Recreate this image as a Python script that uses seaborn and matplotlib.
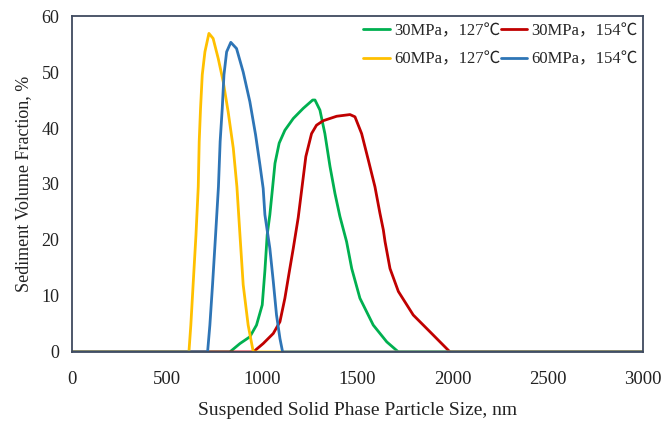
import matplotlib
matplotlib.use("Agg")
import matplotlib.pyplot as plt
import seaborn as sns
import pandas as pd

# Particle-size distributions (size in nm, volume fraction in %)
x_30_127 = [0, 830, 883, 935, 970, 1000, 1014, 1026, 1040, 1053, 1067, 1089, 1119, 1163, 1215, 1265,
            1277, 1303, 1329, 1356, 1382, 1408, 1443, 1470, 1513, 1583, 1654, 1715, 3000]
y_30_127 = [0, 0, 1.5, 2.7, 4.8, 8.4, 14.5, 20.9, 24.5, 28.9, 33.7, 37.3, 39.6, 41.7, 43.5, 45.0,
            45.0, 43.2, 39.0, 33.1, 28.3, 24.2, 19.7, 14.9, 9.6, 4.8, 1.8, 0, 0]

x_30_154 = [0, 953, 1005, 1058, 1093, 1119, 1142, 1163, 1189, 1207, 1229, 1259, 1285, 1320, 1391,
            1461, 1487, 1522, 1557, 1592, 1618, 1636, 1645, 1671, 1715, 1793, 1881, 1986, 3000]
y_30_154 = [0, 0, 1.5, 3.3, 5.4, 9.6, 14.3, 18.5, 24.0, 28.9, 34.9, 39.0, 40.5, 41.3, 42.1,
            42.4, 42.0, 39.0, 34.3, 29.5, 24.8, 21.8, 19.7, 14.9, 10.8, 6.6, 3.6, 0, 0]

x_60_127 = [0, 615, 625, 637, 652, 664, 669, 676, 685, 699, 720, 742, 769, 795, 821, 848, 867,
            883, 900, 926, 953, 3000]
y_60_127 = [0, 0, 4.8, 12.0, 20.9, 29.5, 37.6, 43.5, 49.5, 53.6, 56.9, 56.0, 52.4, 48.3, 42.9, 36.4, 29.5,
            20.9, 12.0, 4.8, 0, 0]

x_60_154 = [0, 713, 725, 739, 755, 770, 779, 790, 799, 813, 835, 865, 900, 935, 965, 988, 1005,
            1014, 1040, 1058, 1075, 1093, 1107, 3000]
y_60_154 = [0, 0, 4.8, 12.0, 20.9, 29.5, 37.6, 43.5, 49.5, 53.6, 55.3, 54.2, 50.0, 44.7, 38.8, 33.4, 29.2,
            24.5, 18.5, 12.6, 6.6, 2.4, 0, 0]

labels = ["30MPa，127℃", "30MPa，154℃", "60MPa，127℃", "60MPa，154℃"]
colors = ["#00B050", "#C00000", "#FFC000", "#2E75B6"]

frames = []
for lab, xs, ys in zip(labels,
                       [x_30_127, x_30_154, x_60_127, x_60_154],
                       [y_30_127, y_30_154, y_60_127, y_60_154]):
    frames.append(pd.DataFrame({"size": xs, "frac": ys, "case": lab}))
df = pd.concat(frames, ignore_index=True)

sns.set_theme(style="white")
plt.rcParams["font.family"] = ["Liberation Serif", "Noto Sans CJK SC", "DejaVu Sans"]
plt.rcParams["axes.edgecolor"] = "#3F4A5F"
plt.rcParams["axes.linewidth"] = 1.3

fig = plt.figure(figsize=(6.65, 4.22), dpi=100)
ax = fig.add_axes([0.108, 0.166, 0.859, 0.796])

sns.lineplot(data=df, x="size", y="frac", hue="case", hue_order=labels,
             palette=dict(zip(labels, colors)), linewidth=2.0, sort=False,
             estimator=None, ax=ax, legend=False)
for ln in ax.lines:
    ln.set_solid_joinstyle("round")

ax.set_xlim(0, 3000)
ax.set_ylim(0, 60)
ax.set_xticks(range(0, 3001, 500))
ax.set_yticks(range(0, 61, 10))
ax.tick_params(axis="both", length=0, colors="#222222")
ax.tick_params(axis="x", pad=14, labelsize=13.5)
ax.tick_params(axis="y", pad=9, labelsize=13)
for s in ax.spines.values():
    s.set_visible(True)

ax.set_xlabel("Suspended Solid Phase Particle Size, nm", fontsize=14, color="#222222", labelpad=10)
ax.set_ylabel("Sediment Volume Fraction, %", fontsize=13, color="#222222", labelpad=7)

handles = [plt.Line2D([], [], color=c, lw=2.0) for c in colors]
order = [0, 2, 1, 3]
ax.legend([handles[i] for i in order], [labels[i] for i in order], ncol=2,
          loc="upper right", bbox_to_anchor=(1.017, 1.024), frameon=False,
          fontsize=12, handlelength=1.6, handletextpad=0.25, columnspacing=0.0,
          labelspacing=0.75)

fig.savefig("out.png", dpi=100)
